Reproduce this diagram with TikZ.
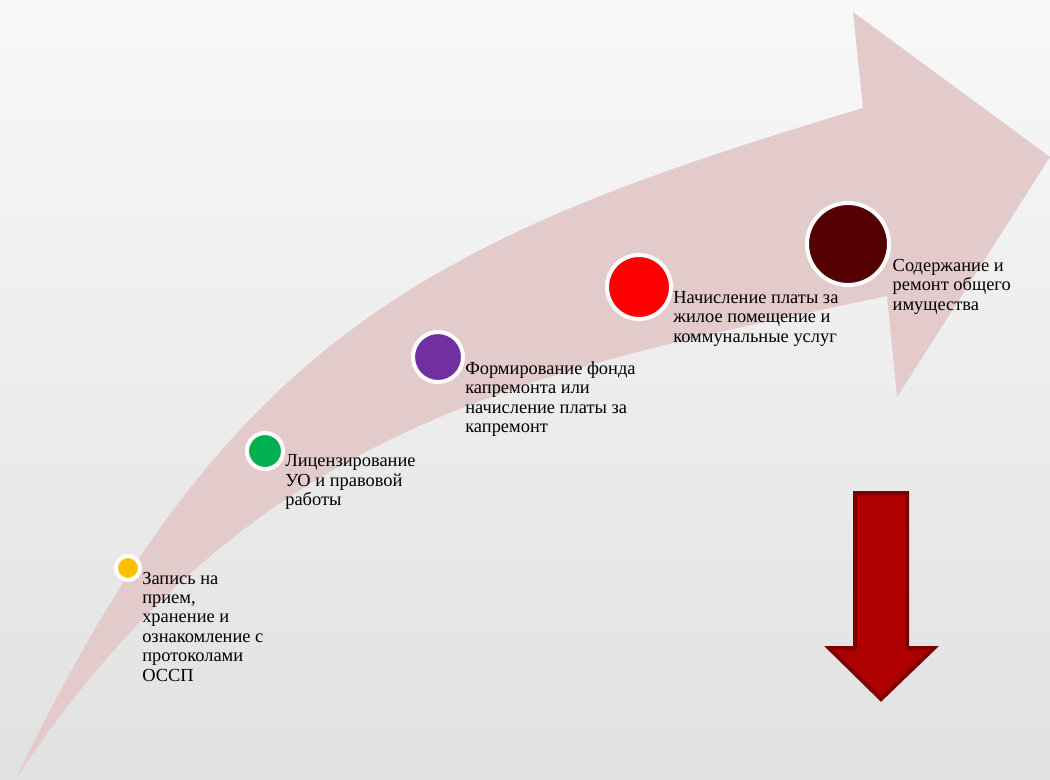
\documentclass[tikz,border=0pt]{standalone}
\usepackage{fontspec}
\setmainfont{Liberation Serif}
\usetikzlibrary{positioning}

\definecolor{bgtop}{RGB}{248,248,248}
\definecolor{bgbot}{RGB}{225,225,225}
\definecolor{arrowpink}{RGB}{227,202,203}
\definecolor{dotyellow}{RGB}{255,192,0}
\definecolor{dotgreen}{RGB}{0,176,80}
\definecolor{dotpurple}{RGB}{112,48,160}
\definecolor{dotred}{RGB}{255,0,0}
\definecolor{dotdark}{RGB}{85,0,0}
\definecolor{downfill}{RGB}{174,0,0}
\definecolor{downedge}{RGB}{128,0,0}

\tikzset{
	dot/.style={circle,draw=white,line width=0.1cm,inner sep=0pt},
	lbl/.style={inner sep=0pt,align=left,font=\fontsize{13.1}{13.8}\selectfont}
}

\begin{document}
\begin{tikzpicture}[x=0.025cm,y=-0.025cm]
	\shade[top color=bgtop,bottom color=bgbot] (0,0) rectangle (1050,779);
	\useasboundingbox (0,0) rectangle (1050,779);
	%big arrow
	\fill[arrowpink] (17,777) .. controls (230,330) and (440,235) .. (863,108)
		-- (853,12) -- (1050,157) -- (897,397) -- (887,296)
		.. controls (537,370) and (254,420) .. (17,777) -- cycle;
	%steps
	\node[dot,fill=dotyellow,minimum size=0.6cm] (c1) at (128,568) {};
	\node[dot,fill=dotgreen,minimum size=0.9cm] (c2) at (265,451) {};
	\node[dot,fill=dotpurple,minimum size=1.25cm] (c3) at (438,357) {};
	\node[dot,fill=dotred,minimum size=1.6cm] (c4) at (639,287) {};
	\node[dot,fill=dotdark,minimum size=2.05cm] (c5) at (848,244) {};
	\node[lbl,below right=2.5pt and 0pt of c1.east] (t1) {Запись на\\прием,\\хранение и\\ознакомление с\\протоколами\\ОССП};
	\node[lbl,below right=2.5pt and 0pt of c2.east] (t2) {Лицензирование\\УО и правовой\\работы};
	\node[lbl,below right=3pt and 0pt of c3.east] (t3) {Формирование фонда\\капремонта или\\начисление платы за\\капремонт};
	\node[lbl,below right=3pt and 0pt of c4.east] (t4) {Начисление платы за\\жилое помещение и\\коммунальные услуг};
	\node[lbl,below right=10.5pt and 1pt of c5.east] (t5) {Содержание и\\ремонт общего\\имущества};
	%down arrow
	\draw[downedge,fill=downfill,line width=0.1cm] (855,493) -- (907,493) -- (907,648) -- (934,648) -- (881,699) -- (829,648) -- (855,648) -- cycle;
\end{tikzpicture}
\end{document}
